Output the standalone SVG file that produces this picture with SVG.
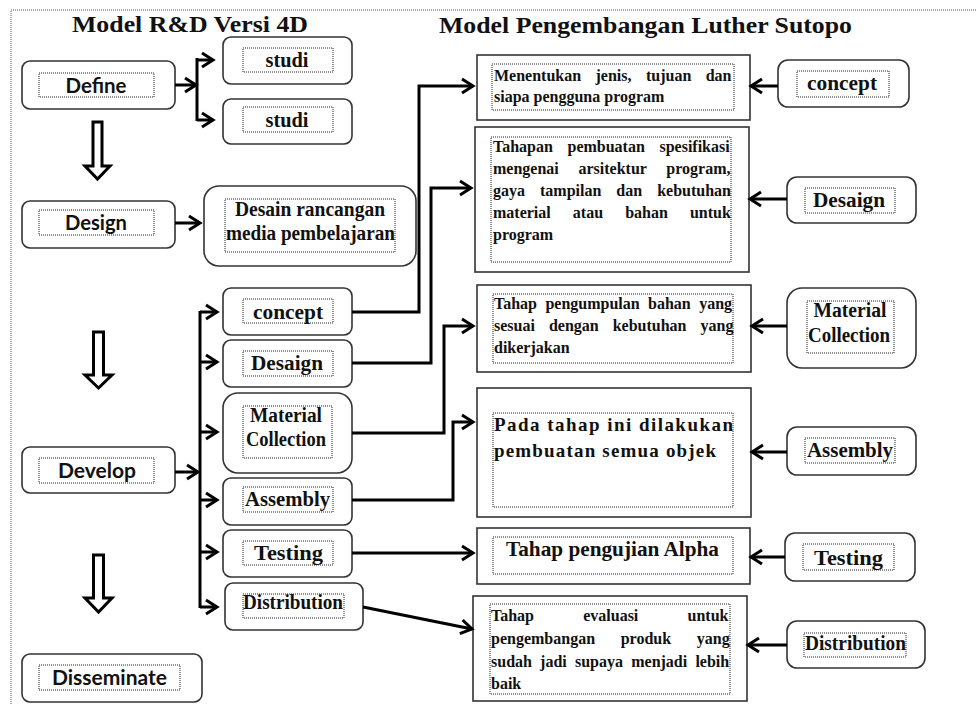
<svg xmlns="http://www.w3.org/2000/svg" width="976" height="704" viewBox="0 0 976 704">
<defs>
<style>
.rb{fill:#fff;stroke:#333;stroke-width:1.6}
.ib{fill:none;stroke:#222;stroke-width:1;stroke-dasharray:1 1}
.cn{fill:none;stroke:#000;stroke-width:3}
.ha{fill:#fff;stroke:#000;stroke-width:3;stroke-linejoin:miter}
.lbl{font-family:"Liberation Serif","Times New Roman",serif;font-weight:bold;font-size:20px;fill:#111;text-anchor:middle}
.sl{font-family:Lato,"Open Sans",sans-serif;font-weight:bold;font-size:21px;fill:#111;text-anchor:middle}
.par{font-family:"Liberation Serif","Times New Roman",serif;font-weight:bold;font-size:16px;fill:#111}
.ttl{font-family:"Liberation Serif","Times New Roman",serif;font-weight:bold;font-size:24px;fill:#111;text-anchor:middle}
</style>
<marker id="ah" markerUnits="userSpaceOnUse" markerWidth="16" markerHeight="18" viewBox="-13 -9 16 18" refX="0" refY="0" orient="auto">
<path d="M-11,-7 L0,0 L-11,7" fill="none" stroke="#000" stroke-width="3"/>
</marker>
</defs>
<rect width="976" height="704" fill="#fff"/>
<path d="M11,704 V10 H976" fill="none" stroke="#555" stroke-width="1" stroke-dasharray="1 1"/>

<g id="titles">
<text class="ttl" x="190" y="32" textLength="236" lengthAdjust="spacingAndGlyphs">Model R&amp;D Versi 4D</text>
<text class="ttl" x="645.5" y="33" textLength="413" lengthAdjust="spacingAndGlyphs">Model Pengembangan Luther Sutopo</text>
</g>

<!-- Left column 4D -->
<g id="define"><rect class="rb" x="22" y="61" width="153" height="48" rx="8"/><rect class="ib" x="39" y="73" width="115" height="24"/><text class="sl" x="96" y="93" textLength="61" lengthAdjust="spacingAndGlyphs">Define</text></g>
<g id="design"><rect class="rb" x="22" y="201" width="153" height="47" rx="8"/><rect class="ib" x="39" y="210" width="115" height="25"/><text class="sl" x="96" y="230" textLength="62" lengthAdjust="spacingAndGlyphs">Design</text></g>
<g id="develop"><rect class="rb" x="22" y="447" width="153" height="46" rx="8"/><rect class="ib" x="39" y="458" width="115" height="25"/><text class="sl" x="97" y="478" textLength="78" lengthAdjust="spacingAndGlyphs">Develop</text></g>
<g id="disseminate"><rect class="rb" x="22" y="654" width="180" height="48" rx="8"/><rect class="ib" x="39" y="665" width="141" height="25"/><text class="sl" x="109.5" y="685" textLength="115" lengthAdjust="spacingAndGlyphs">Disseminate</text></g>

<g id="hollow-arrows">
<polygon class="ha" points="93,122 102,122 102,166 110,166 97.5,179 85,166 93,166"/>
<polygon class="ha" points="93.5,332 103.5,332 103.5,375 112,375 98.5,388 85,375 93.5,375"/>
<polygon class="ha" points="93.5,555 103.5,555 103.5,598 112,598 98.5,612 85,598 93.5,598"/>
</g>

<g id="studi1"><rect class="rb" x="223" y="37" width="129" height="47" rx="8"/><rect class="ib" x="243" y="48" width="90" height="24"/><text class="lbl" x="287" y="67" textLength="43" lengthAdjust="spacingAndGlyphs">studi</text></g>
<g id="studi2"><rect class="rb" x="223" y="99" width="129" height="45" rx="8"/><rect class="ib" x="243" y="107" width="90" height="25"/><text class="lbl" x="287" y="127" textLength="43" lengthAdjust="spacingAndGlyphs">studi</text></g>
<g id="desain-rancangan"><rect class="rb" x="204" y="186" width="212" height="80" rx="15"/><rect class="ib" x="225" y="199" width="170" height="53"/><text class="lbl" x="310" y="216" textLength="150" lengthAdjust="spacingAndGlyphs">Desain rancangan</text><text class="lbl" x="310.5" y="240" textLength="169" lengthAdjust="spacingAndGlyphs">media pembelajaran</text></g>

<g id="l-concept"><rect class="rb" x="223" y="288" width="129" height="47" rx="8"/><rect class="ib" x="243" y="299" width="90" height="24"/><text class="lbl" x="288" y="319" textLength="70" lengthAdjust="spacingAndGlyphs">concept</text></g>
<g id="l-desaign"><rect class="rb" x="223" y="340" width="129" height="47" rx="8"/><rect class="ib" x="243" y="351" width="90" height="25"/><text class="lbl" x="287" y="370" textLength="72" lengthAdjust="spacingAndGlyphs">Desaign</text></g>
<g id="l-material"><rect class="rb" x="223" y="393" width="129" height="80" rx="15"/><rect class="ib" x="243" y="406" width="89" height="52"/><text class="lbl" x="286" y="422" textLength="72" lengthAdjust="spacingAndGlyphs">Material</text><text class="lbl" x="286" y="446" textLength="80" lengthAdjust="spacingAndGlyphs">Collection</text></g>
<g id="l-assembly"><rect class="rb" x="223" y="478" width="129" height="47" rx="8"/><rect class="ib" x="243" y="487" width="90" height="25"/><text class="lbl" x="287.5" y="506" textLength="85" lengthAdjust="spacingAndGlyphs">Assembly</text></g>
<g id="l-testing"><rect class="rb" x="223" y="530" width="129" height="47" rx="8"/><rect class="ib" x="243" y="541" width="90" height="24"/><text class="lbl" x="288.5" y="560" textLength="69" lengthAdjust="spacingAndGlyphs">Testing</text></g>
<g id="l-distribution"><rect class="rb" x="225" y="583" width="138" height="47" rx="8"/><rect class="ib" x="243" y="594" width="101" height="24"/><text class="lbl" x="293" y="609" textLength="100" lengthAdjust="spacingAndGlyphs">Distribution</text></g>

<!-- Middle description boxes -->
<g id="r1"><rect class="rb" x="477" y="55" width="273" height="65"/><rect class="ib" x="492" y="64" width="242" height="46"/>
<text class="par" x="494" y="81" word-spacing="10.4">Menentukan jenis, tujuan dan</text>
<text class="par" x="494" y="102">siapa pengguna program</text></g>
<g id="r2"><rect class="rb" x="475" y="127" width="274" height="145"/><rect class="ib" x="491" y="137" width="240" height="125"/>
<text class="par" x="493" y="152" word-spacing="10.6">Tahapan pembuatan spesifikasi</text>
<text class="par" x="493" y="174" word-spacing="15.7">mengenai arsitektur program,</text>
<text class="par" x="493" y="196" word-spacing="11">gaya tampilan dan kebutuhan</text>
<text class="par" x="493" y="218" word-spacing="18.1">material atau bahan untuk</text>
<text class="par" x="493" y="240">program</text></g>
<g id="r3"><rect class="rb" x="477" y="285" width="274" height="87"/><rect class="ib" x="493" y="294" width="240" height="69"/>
<text class="par" x="494" y="309" word-spacing="4.4">Tahap pengumpulan bahan yang</text>
<text class="par" x="494" y="331" word-spacing="10">sesuai dengan kebutuhan yang</text>
<text class="par" x="494" y="353">dikerjakan</text></g>
<g id="r4"><rect class="rb" x="477" y="388" width="274" height="129"/><rect class="ib" x="493" y="413" width="240" height="94"/>
<text class="par" x="494" y="431" style="font-size:19px" textLength="239" lengthAdjust="spacing">Pada tahap ini dilakukan</text>
<text class="par" x="494" y="457" style="font-size:19px" textLength="222" lengthAdjust="spacing">pembuatan semua objek</text></g>
<g id="r5"><rect class="rb" x="477" y="528" width="273" height="56"/><rect class="ib" x="493" y="537" width="240" height="37"/>
<text class="par" x="612.5" y="556" style="font-size:20px;text-anchor:middle" textLength="213" lengthAdjust="spacingAndGlyphs">Tahap pengujian Alpha</text></g>
<g id="r6"><rect class="rb" x="473" y="596" width="274" height="105"/><rect class="ib" x="490" y="604" width="240" height="90"/>
<text class="par" x="491" y="621" word-spacing="45.2">Tahap evaluasi untuk</text>
<text class="par" x="491" y="644" word-spacing="21.7">pengembangan produk yang</text>
<text class="par" x="491" y="667" word-spacing="4.2">sudah jadi supaya menjadi lebih</text>
<text class="par" x="491" y="689">baik</text></g>

<!-- Right column Luther Sutopo -->
<g id="r-concept"><rect class="rb" x="778" y="60" width="131" height="47" rx="10"/><rect class="ib" x="797" y="71" width="92" height="26"/><text class="lbl" x="842" y="90" textLength="70" lengthAdjust="spacingAndGlyphs">concept</text></g>
<g id="r-desaign"><rect class="rb" x="787" y="177" width="129" height="46" rx="10"/><rect class="ib" x="805" y="188" width="90" height="25"/><text class="lbl" x="849" y="207" textLength="72" lengthAdjust="spacingAndGlyphs">Desaign</text></g>
<g id="r-material"><rect class="rb" x="787" y="288" width="129" height="80" rx="15"/><rect class="ib" x="807" y="301" width="87" height="52"/><text class="lbl" x="850" y="317" textLength="73" lengthAdjust="spacingAndGlyphs">Material</text><text class="lbl" x="849" y="342" textLength="82" lengthAdjust="spacingAndGlyphs">Collection</text></g>
<g id="r-assembly"><rect class="rb" x="787" y="427" width="129" height="48" rx="10"/><rect class="ib" x="805" y="438" width="90" height="25"/><text class="lbl" x="850" y="457" textLength="86" lengthAdjust="spacingAndGlyphs">Assembly</text></g>
<g id="r-testing"><rect class="rb" x="785" y="533" width="130" height="48" rx="10"/><rect class="ib" x="803" y="544" width="91" height="26"/><text class="lbl" x="848.5" y="565" textLength="69" lengthAdjust="spacingAndGlyphs">Testing</text></g>
<g id="r-distribution"><rect class="rb" x="787" y="621" width="138" height="47" rx="10"/><rect class="ib" x="804" y="633" width="102" height="24"/><text class="lbl" x="855.5" y="650" textLength="101" lengthAdjust="spacingAndGlyphs">Distribution</text></g>

<g id="connectors">
<path class="cn" d="M175,85 H196" marker-end="url(#ah)"/>
<path class="cn" d="M197,58 V121"/>
<path class="cn" d="M197,60 H213" marker-end="url(#ah)"/>
<path class="cn" d="M197,120 H213" marker-end="url(#ah)"/>
<path class="cn" d="M175,223 H200" marker-end="url(#ah)"/>
<path class="cn" d="M175,472 H198" marker-end="url(#ah)"/>
<path class="cn" d="M200,311 V608"/>
<path class="cn" d="M200,312 H217" marker-end="url(#ah)"/>
<path class="cn" d="M200,362 H217" marker-end="url(#ah)"/>
<path class="cn" d="M200,432 H217" marker-end="url(#ah)"/>
<path class="cn" d="M200,500 H217" marker-end="url(#ah)"/>
<path class="cn" d="M200,552 H217" marker-end="url(#ah)"/>
<path class="cn" d="M200,607 H217" marker-end="url(#ah)"/>
<path class="cn" d="M352,312 H419 V86 H473" marker-end="url(#ah)"/>
<path class="cn" d="M352,363 H431 V188 H471" marker-end="url(#ah)"/>
<path class="cn" d="M352,433 H444 V326 H473" marker-end="url(#ah)"/>
<path class="cn" d="M352,500 H453 V422 H473" marker-end="url(#ah)"/>
<path class="cn" d="M352,553 H473" marker-end="url(#ah)"/>
<path class="cn" d="M363,607 L472,629" marker-end="url(#ah)"/>
<path class="cn" d="M778,86 H751" marker-end="url(#ah)"/>
<path class="cn" d="M787,199 H750" marker-end="url(#ah)"/>
<path class="cn" d="M787,326 H752" marker-end="url(#ah)"/>
<path class="cn" d="M787,452 H752" marker-end="url(#ah)"/>
<path class="cn" d="M785,557 H751" marker-end="url(#ah)"/>
<path class="cn" d="M787,645 H748" marker-end="url(#ah)"/>
</g>
</svg>
